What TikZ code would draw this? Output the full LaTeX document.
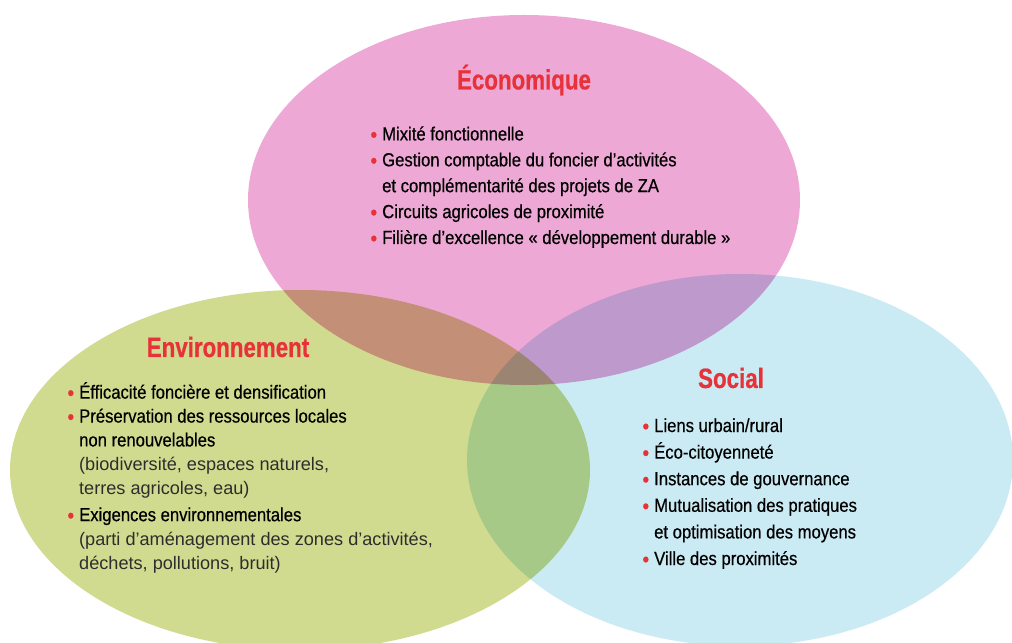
\documentclass[tikz,border=0pt]{standalone}
\usepackage{fontspec}
\setmainfont{Liberation Sans}
\newfontfamily\itemfont[FakeStretch=0.88,FakeBold=0.5]{Liberation Sans}
\newfontfamily\titlefont[FakeStretch=0.8,FakeBold=0.6]{Liberation Sans Bold}
\usetikzlibrary{positioning}
\definecolor{ecopink}{RGB}{238,168,213}
\definecolor{envgreen}{RGB}{209,219,143}
\definecolor{socblue}{RGB}{203,235,244}
\definecolor{titlered}{RGB}{232,50,58}
\definecolor{parengray}{RGB}{45,45,45}
\newcommand{\itm}{\makebox[0pt][r]{\raisebox{-1.8bp}{\textcolor{titlered}{\fontsize{22}{22}\selectfont\textbullet}}\hspace{5bp}}}
\newcommand{\parfont}{\normalfont\color{parengray}\fontsize{18.2}{24}\selectfont}

\begin{document}
\begin{tikzpicture}[x=1bp, y=-1bp,
    title/.style={text=titlered, inner sep=0pt, font=\titlefont\fontsize{28}{30}\selectfont},
    items/.style={anchor=base west, align=left, inner sep=0pt, font=\itemfont\fontsize{19}{26}\selectfont}]
    \clip (0,0) rectangle (1012,643);
    \fill[white] (0,0) rectangle (1012,643);

    % Three spheres
    \begin{scope}[blend group=multiply]
        \fill[ecopink] (524,200) ellipse [x radius=276bp, y radius=185bp];
        \fill[envgreen] (300,470) ellipse [x radius=290bp, y radius=180bp];
        \fill[socblue] (740,460) ellipse [x radius=273bp, y radius=186bp];
    \end{scope}

    % Titles
    \node[title] (ecotitle) at (524,80) {Économique};
    \node[title] (envtitle) at (228,347) {Environnement};
    \node[title] (soctitle) at (731,378) {Social};

    % Lists (anchored on the last baseline)
    \node[items] (ecolist) at (382,244) {%
        \itm Mixité fonctionnelle\\
        \itm Gestion comptable du foncier d’activités\\
        et complémentarité des projets de ZA\\
        \itm Circuits agricoles de proximité\\
        \itm Filière d’excellence «~développement durable~»};
    \node[items, font=\itemfont\fontsize{19}{24}\selectfont] (envlist) at (79,569) {%
        \itm Éfficacité foncière et densification\\
        \itm Préservation des ressources locales\\
        non renouvelables\\
        \parfont (biodiversité, espaces naturels,\\
        \parfont terres agricoles, eau)\\[3bp]
        \itm Exigences environnementales\\
        \parfont (parti d’aménagement des zones d'activités,\\
        \parfont déchets, pollutions, bruit)};
    \node[items, font=\itemfont\fontsize{19}{26.7}\selectfont] (soclist) at (654,565) {%
        \itm Liens urbain/rural\\
        \itm Éco-citoyenneté\\
        \itm Instances de gouvernance\\
        \itm Mutualisation des pratiques\\
        et optimisation des moyens\\
        \itm Ville des proximités};
\end{tikzpicture}
\end{document}
